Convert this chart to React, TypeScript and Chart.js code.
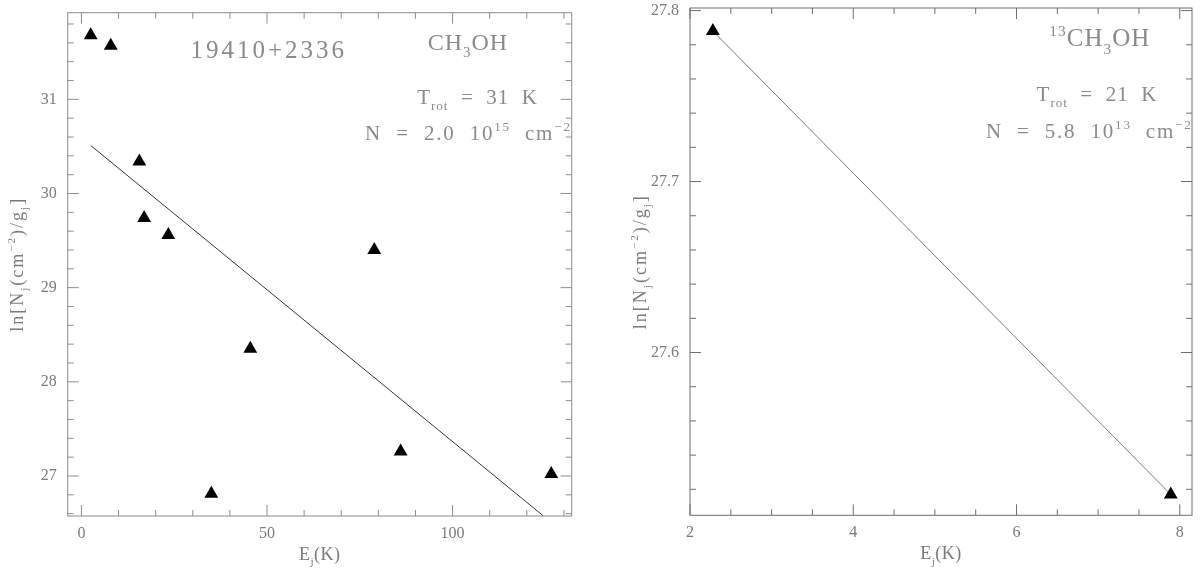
import React, { useEffect, useRef } from 'react';
import { Chart, registerables } from 'chart.js';

Chart.register(...registerables);

// ---------- data ----------
const LEFT_E = [2.5, 7.9, 15.6, 16.9, 23.4, 78.9, 45.5, 35.0, 86.0, 126.6];
const LEFT_LN = [31.68, 31.57, 30.34, 29.74, 29.56, 29.4, 28.35, 26.81, 27.26, 27.02];
const LEFT_FIT_E = [2.5, 124.5];
const LEFT_FIT_LN = [30.51, 26.575];
const LEFT_X_TICKS = [0, 50, 100];
const LEFT_Y_TICKS = [27, 28, 29, 30, 31];

const RIGHT_E = [2.28, 7.89];
const RIGHT_LN = [27.788, 27.517];
const RIGHT_FIT_E = [2.28, 7.89];
const RIGHT_FIT_LN = [27.788, 27.517];
const RIGHT_X_TICKS = [2, 4, 6, 8];
const RIGHT_Y_TICKS = [27.6, 27.7, 27.8];

// ---------- styling ----------
type Seg = { t: string; s?: 'sub' | 'sup' };
const FAMILY = '"Liberation Serif", "DejaVu Serif", serif';
const TEXT_COLOR = '#7a7a7a';

interface Note {
  segs: Seg[];
  ax: number;
  ay: number;
  align: 'left' | 'center' | 'right';
  size: number;
  spacing: number;
}

interface Panel {
  xs: number[];
  ys: number[];
  fx: number[];
  fy: number[];
  xMin: number;
  xMax: number;
  yMin: number;
  yMax: number;
  xTicks: number[];
  yTicks: number[];
  xMinor: number;
  yMinor: number;
  padTop: number;
  padRight: number;
  yWidth: number;
  xHeight: number;
  frameColor: string;
  fitColor: string;
  yTitleGap: number;
  notes: Note[];
}

const Y_TITLE: Seg[] = [
  { t: 'ln[N' },
  { t: 'j', s: 'sub' },
  { t: '(cm' },
  { t: '−2', s: 'sup' },
  { t: ')/g' },
  { t: 'j', s: 'sub' },
  { t: ']' },
];
const X_TITLE: Seg[] = [{ t: 'E' }, { t: 'j', s: 'sub' }, { t: '(K)' }];

const LEFT: Panel = {
  xs: LEFT_E,
  ys: LEFT_LN,
  fx: LEFT_FIT_E,
  fy: LEFT_FIT_LN,
  xMin: -3.7,
  xMax: 132.1,
  yMin: 26.575,
  yMax: 31.92,
  xTicks: LEFT_X_TICKS,
  yTicks: LEFT_Y_TICKS,
  xMinor: 10,
  yMinor: 0.2,
  padTop: 12.7,
  padRight: 28.3,
  yWidth: 67.7,
  xHeight: 52,
  frameColor: '#8c8c8c',
  fitColor: '#333333',
  yTitleGap: 45,
  notes: [
    { segs: [{ t: '19410+2336' }], ax: 0.399, ay: 0.09, align: 'center', size: 25, spacing: 3 },
    { segs: [{ t: 'CH' }, { t: '3', s: 'sub' }, { t: 'OH' }], ax: 0.874, ay: 0.074, align: 'right', size: 24, spacing: 1 },
    { segs: [{ t: 'T' }, { t: 'rot', s: 'sub' }, { t: '  =  31  K' }], ax: 0.933, ay: 0.181, align: 'right', size: 21, spacing: 1 },
    {
      segs: [{ t: 'N  =  2.0  10' }, { t: '15', s: 'sup' }, { t: '  cm' }, { t: '−2', s: 'sup' }],
      ax: 1.0, ay: 0.253, align: 'right', size: 21, spacing: 1.8,
    },
  ],
};

const RIGHT: Panel = {
  xs: RIGHT_E,
  ys: RIGHT_LN,
  fx: RIGHT_FIT_E,
  fy: RIGHT_FIT_LN,
  xMin: 2,
  xMax: 8.15,
  yMin: 27.5048,
  yMax: 27.8015,
  xTicks: RIGHT_X_TICKS,
  yTicks: RIGHT_Y_TICKS,
  xMinor: 0.5,
  yMinor: 0.02,
  padTop: 6.7,
  padRight: 1.7,
  yWidth: 90,
  xHeight: 52.7,
  frameColor: '#6e6e6e',
  fitColor: '#7a7a7a',
  yTitleGap: 44,
  notes: [
    { segs: [{ t: '13', s: 'sup' }, { t: 'CH' }, { t: '3', s: 'sub' }, { t: 'OH' }], ax: 0.917, ay: 0.075, align: 'right', size: 25, spacing: 1 },
    { segs: [{ t: 'T' }, { t: 'rot', s: 'sub' }, { t: '  =  21  K' }], ax: 0.931, ay: 0.183, align: 'right', size: 21, spacing: 1 },
    {
      segs: [{ t: 'N  =  5.8  10' }, { t: '13', s: 'sup' }, { t: '  cm' }, { t: '−2', s: 'sup' }],
      ax: 1.001, ay: 0.256, align: 'right', size: 21, spacing: 1.8,
    },
  ],
};

// ---------- rich text ----------
function segFont(seg: Seg, size: number) {
  const fs = seg.s ? size * 0.62 : size;
  return `${fs}px ${FAMILY}`;
}

function richWidth(ctx: CanvasRenderingContext2D, segs: Seg[], size: number) {
  let w = 0;
  for (const s of segs) {
    ctx.font = segFont(s, size);
    w += ctx.measureText(s.t).width;
  }
  return w;
}

function drawRich(
  ctx: CanvasRenderingContext2D,
  segs: Seg[],
  x: number,
  y: number,
  size: number,
  align: 'left' | 'center' | 'right',
  spacing: number,
  color: string
) {
  ctx.save();
  (ctx as any).letterSpacing = `${spacing}px`;
  ctx.fillStyle = color;
  ctx.textAlign = 'left';
  ctx.textBaseline = 'alphabetic';
  const w = richWidth(ctx, segs, size);
  let cx = align === 'center' ? x - w / 2 : align === 'right' ? x - w : x;
  for (const s of segs) {
    ctx.font = segFont(s, size);
    const dy = s.s === 'sub' ? size * 0.3 : s.s === 'sup' ? -size * 0.42 : 0;
    ctx.fillText(s.t, cx, y + dy);
    cx += ctx.measureText(s.t).width;
  }
  ctx.restore();
}

function makeDecorPlugin(p: Panel) {
  return {
    id: 'decor',
    afterDraw(chart: any) {
      const ctx: CanvasRenderingContext2D = chart.ctx;
      const a = chart.chartArea;
      const xs = chart.scales.x;
      const ys = chart.scales.y;
      ctx.save();
      // frame
      ctx.strokeStyle = p.frameColor;
      ctx.lineWidth = 1;
      ctx.strokeRect(a.left, a.top, a.right - a.left, a.bottom - a.top);
      // ticks (inward, on all four sides)
      const MAJ = 11;
      const MIN = 6;
      const isMajor = (v: number, list: number[], step: number) =>
        list.some((t) => Math.abs(t - v) < step * 1e-3);
      ctx.beginPath();
      const xStart = Math.ceil(p.xMin / p.xMinor - 1e-9);
      for (let i = xStart; i * p.xMinor <= p.xMax + 1e-9; i++) {
        const v = i * p.xMinor;
        const px = xs.getPixelForValue(v);
        if (px < a.left - 0.5 || px > a.right + 0.5) continue;
        const len = isMajor(v, p.xTicks, p.xMinor) ? MAJ : MIN;
        ctx.moveTo(px, a.bottom);
        ctx.lineTo(px, a.bottom - len);
        ctx.moveTo(px, a.top);
        ctx.lineTo(px, a.top + len);
      }
      const yStart = Math.ceil(p.yMin / p.yMinor - 1e-9);
      for (let i = yStart; i * p.yMinor <= p.yMax + 1e-9; i++) {
        const v = i * p.yMinor;
        const py = ys.getPixelForValue(v);
        if (py < a.top - 0.5 || py > a.bottom + 0.5) continue;
        const len = isMajor(v, p.yTicks, p.yMinor) ? MAJ : MIN;
        ctx.moveTo(a.left, py);
        ctx.lineTo(a.left + len, py);
        ctx.moveTo(a.right, py);
        ctx.lineTo(a.right - len, py);
      }
      ctx.stroke();
      ctx.restore();

      // axis titles
      const cxArea = (a.left + a.right) / 2;
      const cyArea = (a.top + a.bottom) / 2;
      drawRich(ctx, X_TITLE, cxArea, a.bottom + 44, 18, 'center', 0.5, TEXT_COLOR);
      ctx.save();
      ctx.translate(a.left - p.yTitleGap, cyArea);
      ctx.rotate(-Math.PI / 2);
      drawRich(ctx, Y_TITLE, 0, 0, 18, 'center', 2, TEXT_COLOR);
      ctx.restore();

      // annotations
      const w = a.right - a.left;
      const h = a.bottom - a.top;
      for (const n of p.notes) {
        drawRich(ctx, n.segs, a.left + n.ax * w, a.top + n.ay * h, n.size, n.align, n.spacing, '#8a8a8a');
      }
    },
  };
}

function PanelChart({ panel }: { panel: Panel }) {
  const ref = useRef<HTMLCanvasElement | null>(null);
  useEffect(() => {
    if (!ref.current) return;
    const p = panel;
    const points = p.xs.map((x, i) => ({ x, y: p.ys[i] }));
    const fit = p.fx.map((x, i) => ({ x, y: p.fy[i] }));
    const tickFont = { family: FAMILY, size: 16 };
    const chart = new Chart(ref.current, {
      type: 'scatter',
      data: {
        datasets: [
          {
            type: 'scatter',
            data: points,
            pointStyle: 'triangle',
            pointRadius: 8,
            pointHoverRadius: 8,
            backgroundColor: '#000000',
            borderColor: '#000000',
            borderWidth: 0,
          } as any,
          {
            type: 'line',
            data: fit,
            borderColor: p.fitColor,
            borderWidth: 1,
            pointRadius: 0,
            fill: false,
            tension: 0,
          } as any,
        ],
      },
      options: {
        animation: false,
        responsive: false,
        maintainAspectRatio: false,
        layout: { padding: { top: p.padTop, right: p.padRight, left: 0, bottom: 0 } },
        plugins: {
          legend: { display: false },
          tooltip: { enabled: false },
          title: { display: false },
        },
        scales: {
          x: {
            type: 'linear',
            min: p.xMin,
            max: p.xMax,
            grid: { display: false, drawTicks: false },
            border: { display: false },
            ticks: {
              color: TEXT_COLOR,
              font: tickFont,
              padding: 8,
              maxRotation: 0,
              autoSkip: false,
              callback: (v: any) => String(v),
            },
            afterBuildTicks: (s: any) => {
              s.ticks = p.xTicks.map((v) => ({ value: v }));
            },
            afterFit: (s: any) => {
              s.height = p.xHeight;
              s.paddingLeft = 0;
              s.paddingRight = 0;
            },
          },
          y: {
            type: 'linear',
            min: p.yMin,
            max: p.yMax,
            grid: { display: false, drawTicks: false },
            border: { display: false },
            ticks: {
              color: TEXT_COLOR,
              font: tickFont,
              padding: 11,
              autoSkip: false,
              callback: (v: any) => String(v),
            },
            afterBuildTicks: (s: any) => {
              s.ticks = p.yTicks.map((v) => ({ value: v }));
            },
            afterFit: (s: any) => {
              s.width = p.yWidth;
              s.paddingTop = 0;
              s.paddingBottom = 0;
            },
          },
        },
      } as any,
      plugins: [makeDecorPlugin(p) as any],
    });
    return () => chart.destroy();
  }, [panel]);
  return <canvas ref={ref} width={600} height={568} style={{ display: 'block', width: 600, height: 568 }} />;
}

export default function App() {
  return (
    <div
      style={{
        position: 'fixed',
        left: 0,
        top: 0,
        width: 1200,
        height: 568,
        display: 'flex',
        background: '#ffffff',
      }}
    >
      <PanelChart panel={LEFT} />
      <PanelChart panel={RIGHT} />
    </div>
  );
}
